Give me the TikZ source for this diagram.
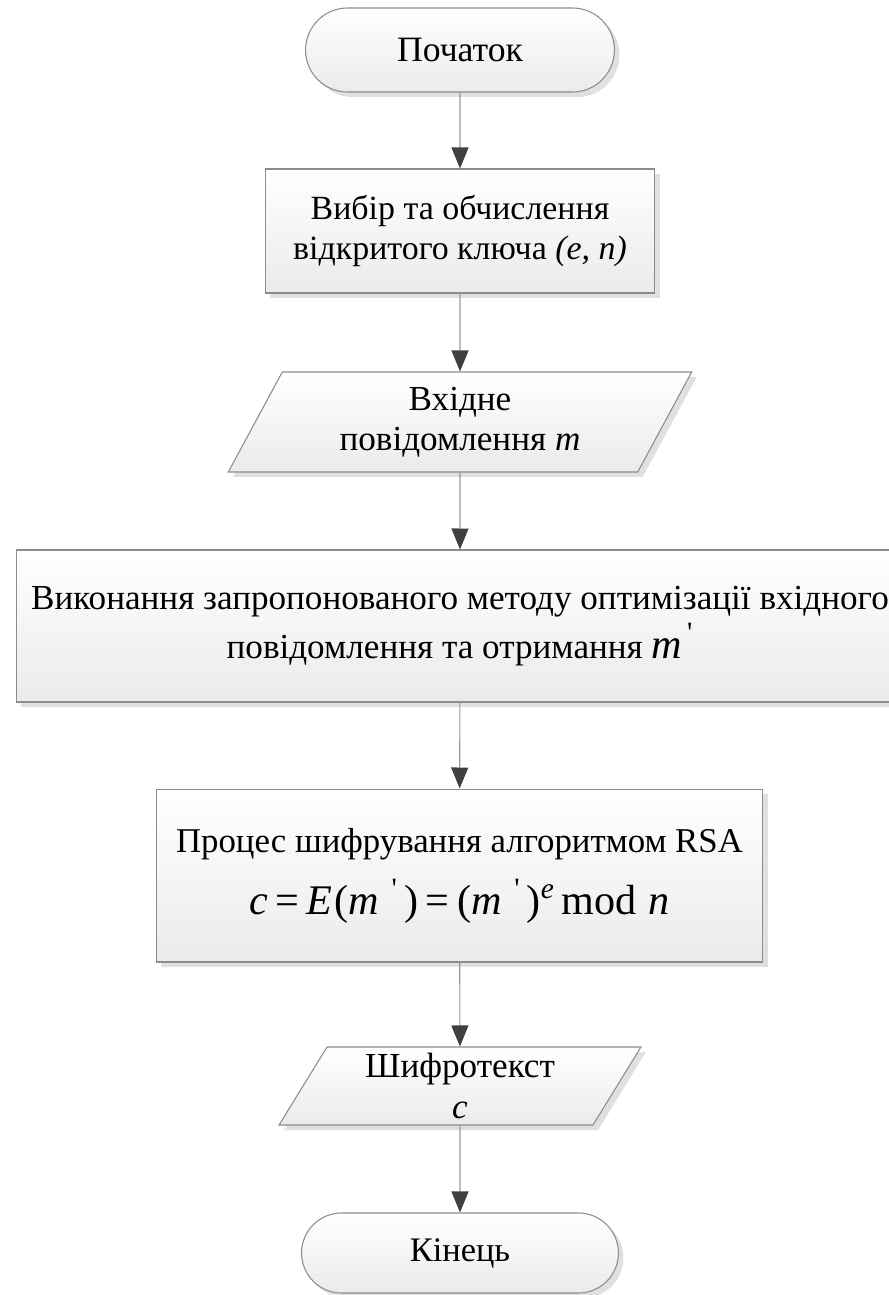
\documentclass[tikz,border=0pt]{standalone}
\usepackage{fontspec}
\setmainfont{Liberation Serif}
\newfontfamily\plainq{Liberation Serif}[Ligatures=TeXOff]
\usetikzlibrary{shapes.geometric,shapes.misc,shadows,arrows.meta}
\newcommand{\pr}{\textsuperscript{\plainq '}}
\newcommand{\gap}[1]{\hspace{#1em}}
\begin{document}
\begin{tikzpicture}[x=0.02cm, y=-0.02cm,
	blk/.style={draw=black!45, line width=0.6pt, top color=white, bottom color=black!8,
		drop shadow={shadow xshift=0.1cm, shadow yshift=-0.1cm, fill=black!12, opacity=1},
		align=center, inner sep=2pt},
	term/.style={blk, rounded rectangle},
	proc/.style={blk, rectangle},
	io/.style={blk, trapezium, trapezium left angle=64, trapezium right angle=116, trapezium stretches=true},
	arr/.style={draw=black!40, line width=0.6pt, -{Triangle[length=0.42cm, width=0.34cm, color=black!75]}}]
\useasboundingbox (0,0) rectangle (889,1295);
\node[term, minimum width=6.32cm, minimum height=1.68cm, font=\fontsize{20.3}{24}\selectfont] (start) at (460,50) {Початок};
\node[proc, minimum width=7.8cm, minimum height=2.48cm, font=\fontsize{19.3}{22.8}\selectfont] (key) at (460,231) {Вибір та обчислення\\відкритого ключа \textit{(e, n)}};
\node[io, minimum width=9.28cm, minimum height=2cm, font=\fontsize{20}{22.8}\selectfont] (input) at (460,422) {Вхідне\\повідомлення \textit{m}};
\node[proc, minimum width=17.76cm, minimum height=3.04cm, font=\fontsize{20}{25.6}\selectfont] (opt) at (460,626) {Виконання запропонованого методу оптимізації вхідного\\[2pt]повідомлення та отримання {\fontsize{24}{25.6}\selectfont\textit{m}\gap{.12}\pr}};
\node[proc, minimum width=12.14cm, minimum height=3.46cm, font=\fontsize{19.8}{24}\selectfont] (enc) at (459.5,875.5) {Процес шифрування алгоритмом RSA\\[10pt]{\fontsize{24}{29.6}\selectfont\textit{c}\gap{.18}=\gap{.18}\textit{E}\gap{.05}(\textit{m}\gap{.3}\pr\gap{.15})\gap{.18}=\gap{.18}(\textit{m}\gap{.3}\pr\gap{.15})\textsuperscript{\textit{e}}\gap{.15}mod\gap{.3}\textit{n}}};
\node[io, minimum width=7.24cm, minimum height=1.56cm, font=\fontsize{20}{23.3}\selectfont] (cipher) at (460,1086) {Шифротекст\\\textit{c}};
\node[term, minimum width=6.48cm, minimum height=1.6cm, font=\fontsize{19.6}{24}\selectfont] (fin) at (460,1253) {Кінець};
\foreach \a/\b in {start/key, key/input, input/opt, opt/enc, enc/cipher, cipher/fin}{
	\draw[arr] (\a) -- (\b);
}
\end{tikzpicture}
\end{document}
